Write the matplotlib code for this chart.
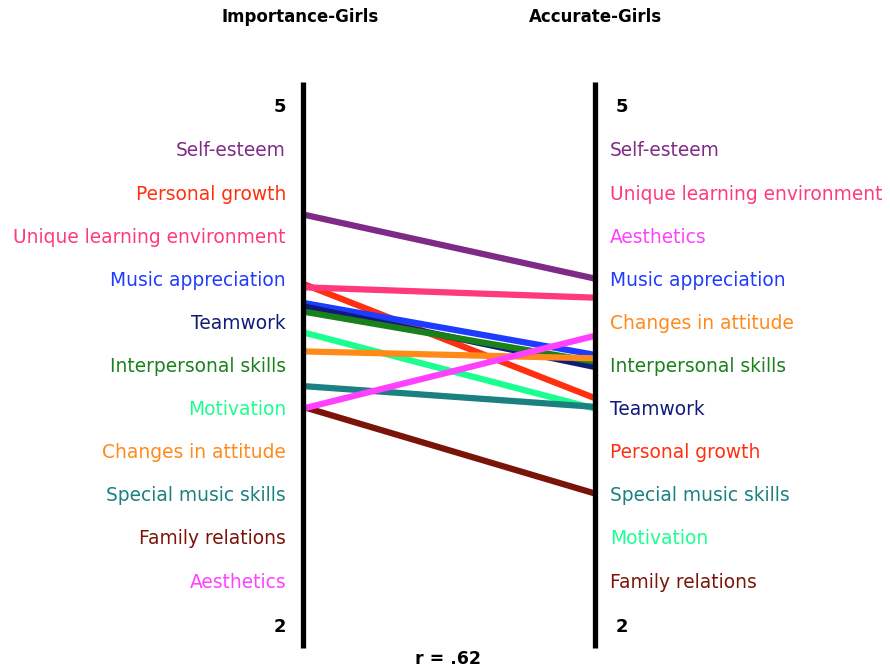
import matplotlib
matplotlib.use("Agg")
import matplotlib.pyplot as plt

# ---------- Data ----------
left_labels = ["Self-esteem", "Personal growth", "Unique learning environment",
               "Music appreciation", "Teamwork", "Interpersonal skills",
               "Motivation", "Changes in attitude", "Special music skills",
               "Family relations", "Aesthetics"]
right_labels = ["Self-esteem", "Unique learning environment", "Aesthetics",
                "Music appreciation", "Changes in attitude", "Interpersonal skills",
                "Teamwork", "Personal growth", "Special music skills",
                "Motivation", "Family relations"]

importance = {
    "Self-esteem": 4.38, "Personal growth": 3.98, "Unique learning environment": 3.96,
    "Music appreciation": 3.87, "Teamwork": 3.85, "Interpersonal skills": 3.82,
    "Motivation": 3.70, "Changes in attitude": 3.59, "Special music skills": 3.39,
    "Family relations": 3.27, "Aesthetics": 3.26,
}
accurate = {
    "Self-esteem": 4.01, "Unique learning environment": 3.90, "Aesthetics": 3.68,
    "Music appreciation": 3.57, "Changes in attitude": 3.55, "Interpersonal skills": 3.53,
    "Teamwork": 3.50, "Personal growth": 3.32, "Special music skills": 3.27,
    "Motivation": 3.26, "Family relations": 2.77,
}

colors = {
    "Self-esteem": "#7f2a86", "Personal growth": "#ff3010",
    "Unique learning environment": "#ff3a7c", "Music appreciation": "#1e3cff",
    "Teamwork": "#101a7a", "Interpersonal skills": "#1a801a",
    "Motivation": "#1aff90", "Changes in attitude": "#ff8a1a",
    "Special music skills": "#1a8080", "Family relations": "#7a1408",
    "Aesthetics": "#ff40ff",
}

# ---------- Layout ----------
W, H = 890, 671
X_LEFT_PX, X_RIGHT_PX = 303, 595
Y5_PX, Y2_PX = 107, 627
PX_PER_UNIT = (Y2_PX - Y5_PX) / 3.0
XU = X_RIGHT_PX - X_LEFT_PX


def px_x(px):
    return (px - X_LEFT_PX) / XU


def px_y(py):
    return 5 - (py - Y5_PX) / PX_PER_UNIT


fig = plt.figure(figsize=(W / 100, H / 100), dpi=100)
ax = fig.add_axes([0, 0, 1, 1])
ax.set_xlim(px_x(0), px_x(W))
ax.set_ylim(px_y(H), px_y(0))
ax.axis("off")

# vertical scales
for x in (0, 1):
    ax.plot([x, x], [px_y(82), px_y(648)], color="black", lw=3.8,
            solid_capstyle="butt", zorder=5)

# connecting lines
for name in left_labels:
    ax.plot([0, 1], [importance[name], accurate[name]], color=colors[name],
            lw=4.5, solid_capstyle="butt", zorder=3)

# label positions, evenly spaced
top, bottom = px_y(151), px_y(582)
n = len(left_labels)
ys = [top + (bottom - top) * i / (n - 1) for i in range(n)]

FS = 13.4
for y, name in zip(ys, left_labels):
    ax.text(px_x(286), y, name, ha="right", va="center", fontsize=FS,
            color=colors[name])
for y, name in zip(ys, right_labels):
    ax.text(px_x(610), y, name, ha="left", va="center", fontsize=FS,
            color=colors[name])

# scale numbers
for v in (5, 2):
    ax.text(px_x(280), v, str(v), ha="center", va="center", fontsize=13,
            fontweight="bold")
    ax.text(px_x(622), v, str(v), ha="center", va="center", fontsize=13,
            fontweight="bold")

ax.text(px_x(300), px_y(17), "Importance-Girls", ha="center", va="center",
        fontsize=12, fontweight="bold")
ax.text(px_x(595), px_y(17), "Accurate-Girls", ha="center", va="center",
        fontsize=12, fontweight="bold")
ax.text(px_x(448), px_y(659), "r = .62", ha="center", va="center",
        fontsize=12.5, fontweight="bold")

fig.savefig("out.png", dpi=100, facecolor="white")
